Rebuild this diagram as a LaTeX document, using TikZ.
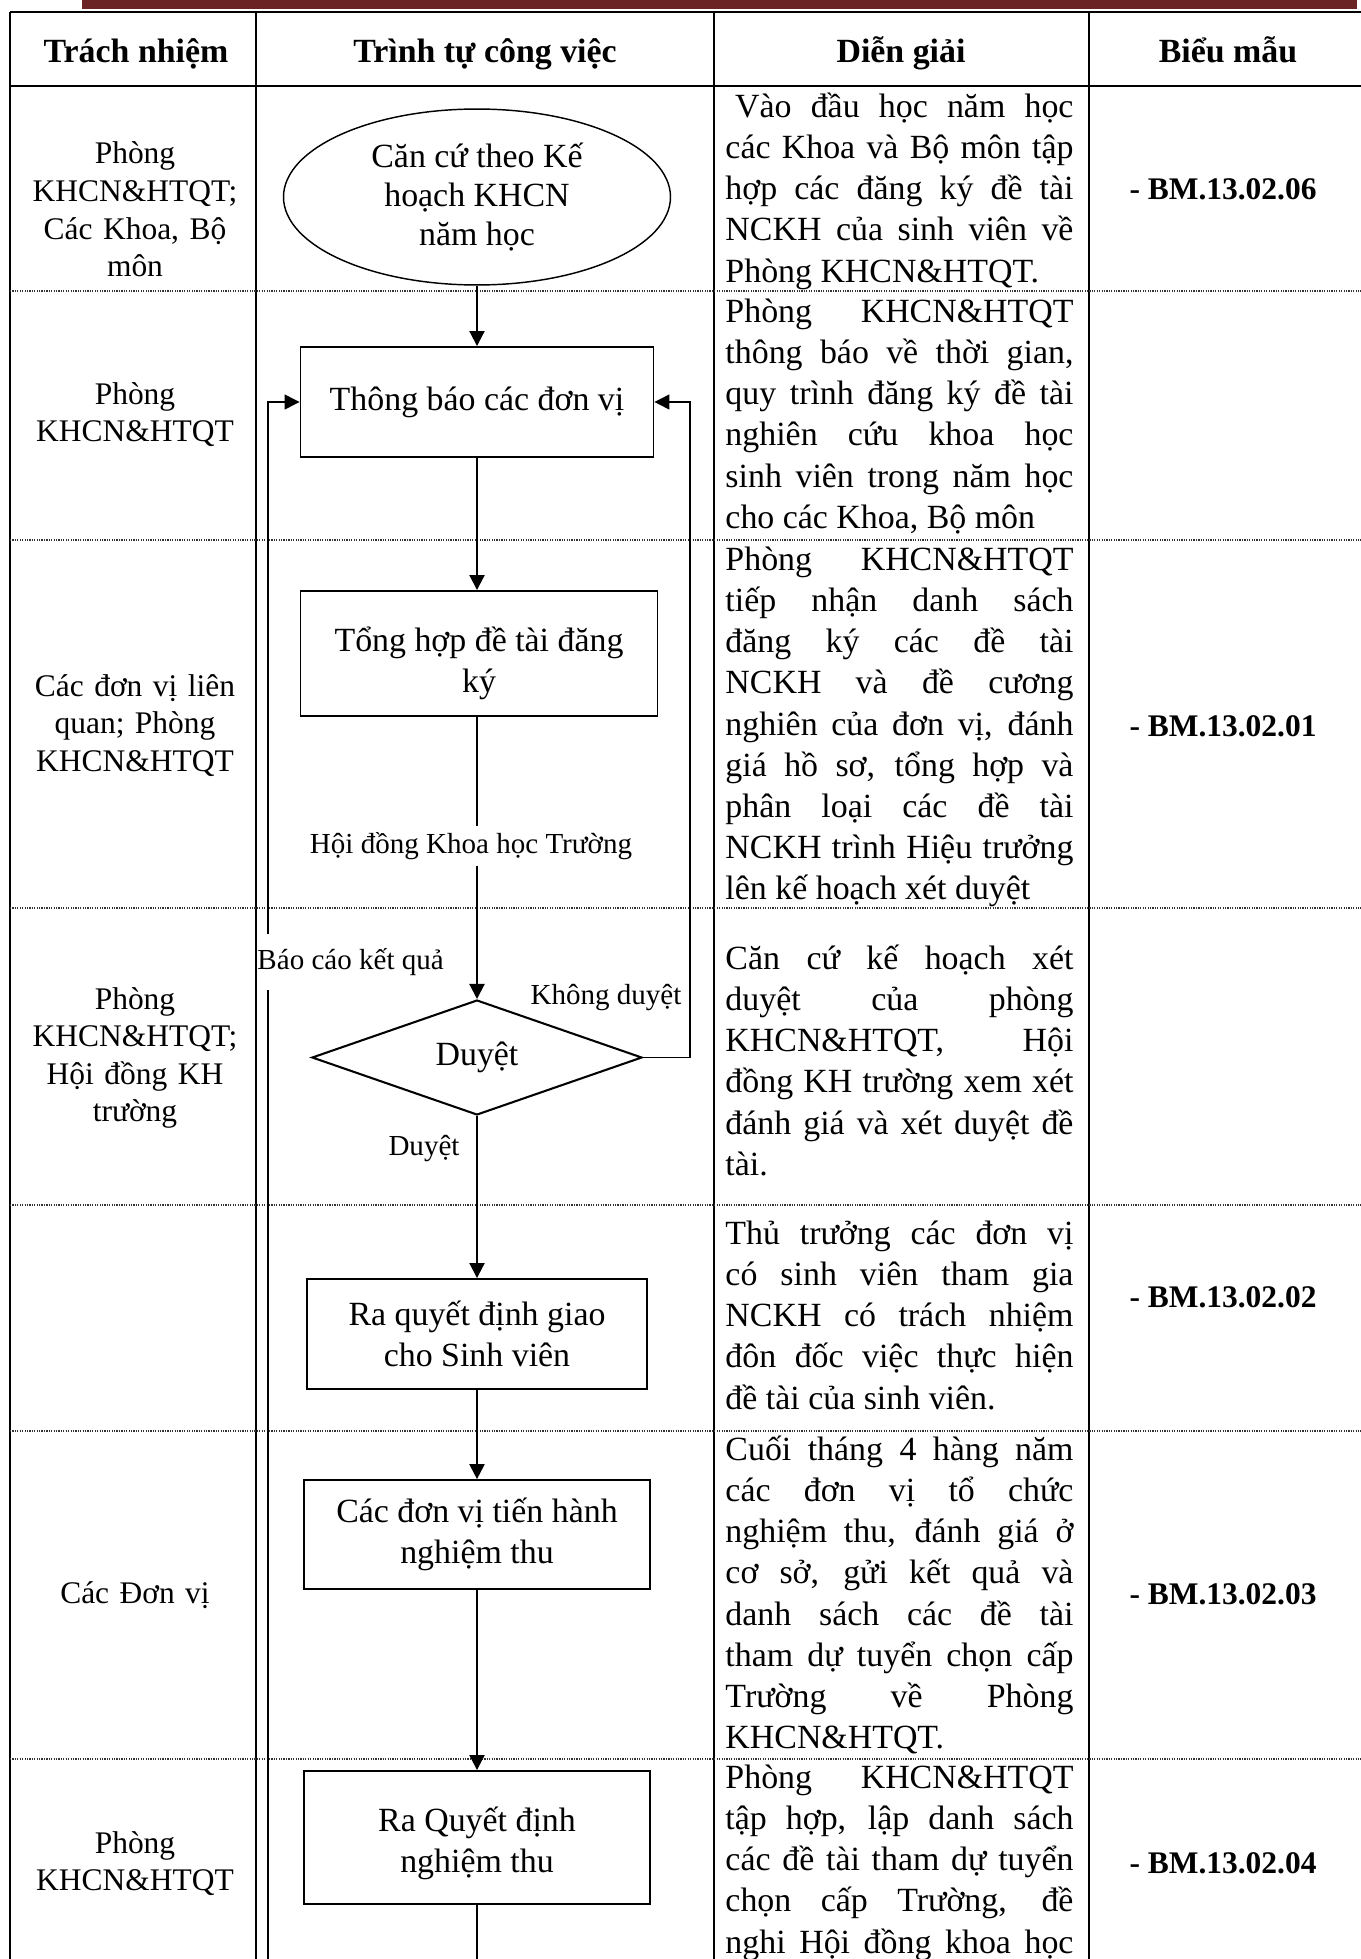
\documentclass[tikz,border=0pt]{standalone}
\usepackage{fontspec}
\setmainfont{Liberation Serif}
\usetikzlibrary{arrows.meta,shapes.geometric}
\definecolor{barred}{RGB}{107,35,35}
\begin{document}
\begin{tikzpicture}[x=0.4132pt,y=-0.4132pt,
  tline/.style={line width=1.1pt},
  cline/.style={line width=0.9pt},
  rowline/.style={line width=0.45pt, black!80, dash pattern=on 0.5pt off 0.5pt},
  hdr/.style={font=\bfseries\fontsize{14}{17}\selectfont, anchor=base, inner sep=0pt},
  resp/.style={font=\fontsize{13}{15.5}\selectfont, text width=99.2pt, align=center, anchor=base, inner sep=0pt},
  expl/.style={font=\fontsize{14}{17}\selectfont, text width=143.8pt, align=justify, anchor=base west, inner sep=0pt},
  form/.style={font=\bfseries\fontsize{13}{15.5}\selectfont, anchor=base, inner sep=0pt},
  stepbox/.style={draw, line width=0.75pt, font=\fontsize{14}{17}\selectfont, align=center, inner sep=0pt},
  steptext/.style={font=\fontsize{14}{17}\selectfont, align=center, inner sep=0pt},
  lbl/.style={font=\fontsize{12}{14}\selectfont, inner xsep=0pt},
  flow/.style={line width=0.85pt, -{Triangle[width=6.2pt,length=6.2pt]}},
  flowplain/.style={line width=0.85pt},
  fb/.style={line width=0.55pt},
  fbarrow/.style={line width=0.55pt, -{Triangle[width=6.2pt,length=6.2pt]}},
]
\useasboundingbox (0,0) rectangle (1361,1959);
\clip (0,0) rectangle (1361,1959);
\fill[white] (0,0) rectangle (1361,1959);
% top bar
\fill[barred] (82,0) rectangle (1357,9);
% table frame
\draw[tline] (10,12) -- (1375,12);
\draw[tline] (10,86) -- (1375,86);
\draw[tline] (10,12) -- (10,1975);
\draw[cline] (256,12) -- (256,1975);
\draw[cline] (714,12) -- (714,1975);
\draw[cline] (1089,12) -- (1089,1975);
\foreach \yy in {291,540,908,1205,1431,1759}
  \draw[rowline] (10,\yy) -- (1375,\yy);
% headers
\node[hdr] (h1) at (136,62.5) {Trách nhiệm};
\node[hdr] (h2) at (485,62.5) {Trình tự công việc};
\node[hdr] (h3) at (901,62.5) {Diễn giải};
\node[hdr] (h4) at (1228,62.5) {Biểu mẫu};
% responsibility column
\node[resp] (r1) at (135,164) {Phòng\\KHCN\&HTQT;\\Các Khoa, Bộ\\môn};
\node[resp] (r2) at (135,404) {Phòng\\KHCN\&HTQT};
\node[resp] (r3) at (135,696) {Các đơn vị liên\\quan; Phòng\\KHCN\&HTQT};
\node[resp] (r4) at (135,1009) {Phòng\\KHCN\&HTQT;\\Hội đồng KH\\trường};
\node[resp] (r6) at (135,1603) {Các Đơn vị};
\node[resp] (r7) at (135,1853) {Phòng\\KHCN\&HTQT};
% explanation column
\node[expl] (e1) at (725,117.5) {\hspace*{4pt}Vào đầu học năm học\linebreak các Khoa và Bộ môn tập\linebreak hợp các đăng ký đề tài\linebreak NCKH của sinh viên về\linebreak Phòng KHCN\&HTQT.};
\node[expl] (e2) at (725,322.5) {Phòng KHCN\&HTQT\linebreak thông báo về thời gian,\linebreak quy trình đăng ký đề tài\linebreak nghiên cứu khoa học\linebreak sinh viên trong năm học\linebreak cho các Khoa, Bộ môn};
\node[expl] (e3) at (725,570.5) {Phòng KHCN\&HTQT\linebreak tiếp nhận danh sách\linebreak đăng ký các đề tài\linebreak NCKH và đề cương\linebreak nghiên của đơn vị, đánh\linebreak giá hồ sơ, tổng hợp và\linebreak phân loại các đề tài\linebreak NCKH trình Hiệu trưởng\linebreak lên kế hoạch xét duyệt};
\node[expl] (e4) at (725,969.5) {Căn cứ kế hoạch xét\linebreak duyệt của phòng\linebreak KHCN\&HTQT, Hội\linebreak đồng KH trường xem xét\linebreak đánh giá và xét duyệt đề\linebreak tài.};
\node[expl] (e5) at (725,1244.5) {Thủ trưởng các đơn vị\linebreak có sinh viên tham gia\linebreak NCKH có trách nhiệm\linebreak đôn đốc việc thực hiện\linebreak đề tài của sinh viên.};
\node[expl] (e6) at (725,1460.5) {Cuối tháng 4 hàng năm\linebreak các đơn vị tổ chức\linebreak nghiệm thu, đánh giá ở\linebreak cơ sở, gửi kết quả và\linebreak danh sách các đề tài\linebreak tham dự tuyển chọn cấp\linebreak Trường về Phòng\linebreak KHCN\&HTQT.};
\node[expl] (e7) at (725,1788.5) {Phòng KHCN\&HTQT\linebreak tập hợp, lập danh sách\linebreak các đề tài tham dự tuyển\linebreak chọn cấp Trường, đề\linebreak nghi Hội đồng khoa học\linebreak};
% forms column
\node[form] (f1) at (1223,199.5) {- BM.13.02.06};
\node[form] (f3) at (1223,736) {- BM.13.02.01};
\node[form] (f5) at (1223,1307) {- BM.13.02.02};
\node[form] (f6) at (1223,1604) {- BM.13.02.03};
\node[form] (f7) at (1223,1873) {- BM.13.02.04};
% flowchart
\node[stepbox, ellipse, line width=0.6pt, font=\fontsize{14}{16}\selectfont, minimum width=159.9pt, minimum height=72.7pt] (ell) at (477,197) {Căn cứ theo Kế\\hoạch KHCN\\năm học};
\node[stepbox, minimum width=145.9pt, minimum height=45.5pt] (b1) at (477,402) {Thông báo các đơn vị};
\node[stepbox, minimum width=147.5pt, minimum height=51.7pt] (b2) at (479,653.5) {};
\node[steptext] (b2t) at (479,663) {Tổng hợp đề tài đăng\\ký};
\node[lbl, inner ysep=2.5pt] (hd) at (471,846) {Hội đồng Khoa học Trường};
\node[stepbox, diamond, aspect=2.87, line width=0.85pt, minimum width=136.4pt, minimum height=47.5pt] (dia) at (477,1057.5) {Duyệt};
\node[lbl, inner ysep=1pt] (kd) at (606,998) {Không duyệt};
\node[lbl, inner ysep=1pt] (dy) at (424,1149) {Duyệt};
\node[lbl, anchor=west, inner ysep=5.8pt] (bc) at (257,962) {Báo cáo kết quả};
\node[stepbox, minimum width=140.5pt, minimum height=45.5pt] (b3) at (477,1334) {Ra quyết định giao\\cho Sinh viên};
\node[stepbox, minimum width=143pt, minimum height=45pt] (b4) at (477,1534.5) {Các đơn vị tiến hành\\nghiệm thu};
\node[stepbox, minimum width=143pt, minimum height=55pt] (b5) at (477,1837.5) {};
\node[steptext] (b5t) at (477,1843) {Ra Quyết định\\nghiệm thu};
\coordinate (rt) at (690,402);
\coordinate (lb) at (268,1975);
\coordinate (bt) at (477,1975);
% connectors
\draw[flow] (ell.south) -- (ell.south |- b1.north);
\draw[flow] (b1.south) -- (b1.south |- b2.north);
\draw[flowplain] (b1.south |- b2.south) -- (b1.south |- hd.north);
\draw[flow] (b1.south |- hd.south) -- (dia.north);
\draw[fbarrow] (dia.east) -| (rt) -- (b1.east);
\draw[flow] (dia.south) -- (b3.north);
\draw[flow] (b3.south) -- (b4.north);
\draw[flow] (b4.south) -- (b5.north);
\draw[flowplain] (b5.south) -- (bt);
\draw[fb] (lb) -- (lb |- bc.south);
\draw[fbarrow] (lb |- bc.north) |- (b1.west);
\end{tikzpicture}
\end{document}
